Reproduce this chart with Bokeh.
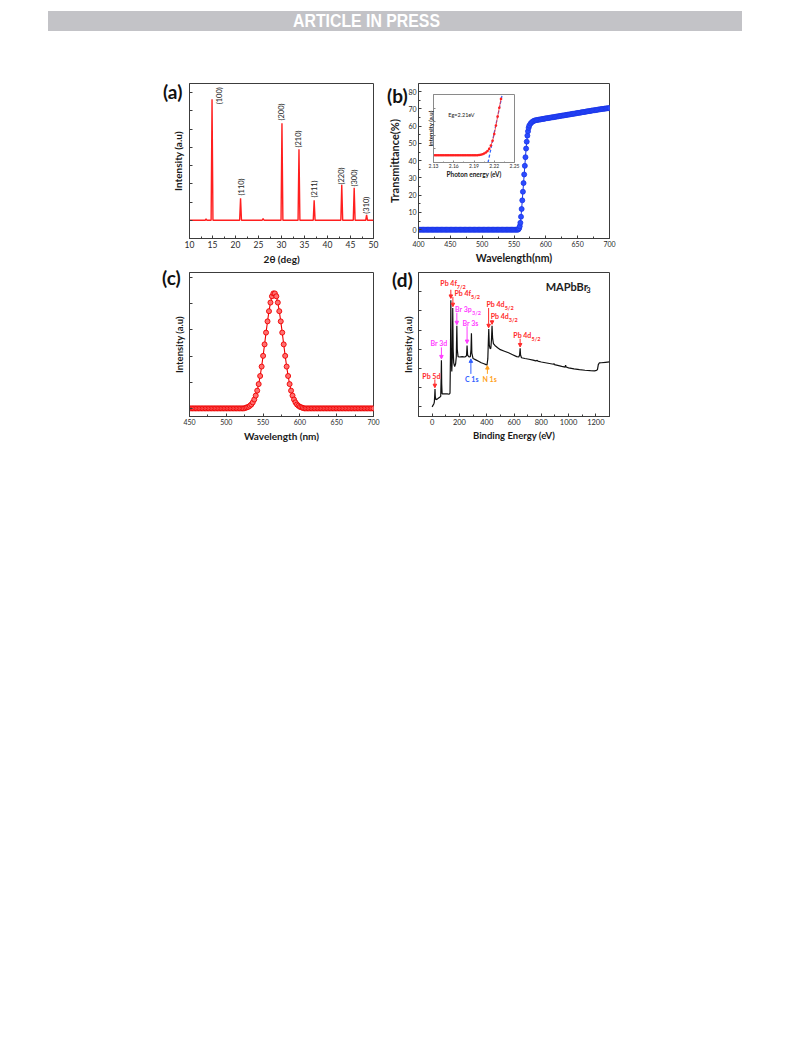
import math
from bokeh.plotting import figure
from bokeh.models import (ColumnDataSource, Label, Arrow, NormalHead, Div, GridBox,
                          Range1d, SingleIntervalTicker, FixedTicker, CustomJSTickFormatter)
from bokeh.core.properties import value
from bokeh.embed import file_html
from bokeh.resources import INLINE

FONT = "Lato"
AX = "#3c3c3c"

# ---------------- (a) XRD ----------------
xrd_baseline = 1.0
xrd_peak_pos = [13.6, 14.9, 21.1, 26.0, 30.1, 33.8, 37.1, 43.1, 45.8, 48.5]
xrd_peak_int = [1.08, 7.64, 2.21, 1.10, 6.32, 4.90, 2.10, 2.94, 2.78, 1.30]
xrd_labels = ["(100)", "(110)", "(200)", "(210)", "(211)", "(220)", "(300)", "(310)"]
xrd_label_x = [16.45, 21.35, 30.1, 33.75, 37.1, 43.05, 45.9, 48.45]
xrd_label_y = [7.36, 2.36, 6.47, 4.99, 2.25, 2.96, 2.85, 1.36]

# ---------------- (b) transmittance ----------------
trans_wl_flat = list(range(400, 557, 2))
trans_T_flat = [0.0] * len(trans_wl_flat)
trans_wl_rise = [557, 558, 559, 560, 561, 562, 563, 564, 565, 566, 567, 568, 569, 570,
                 571, 572, 573, 574, 576, 578, 580, 582]
trans_T_rise = [0.3, 0.8, 2.0, 4.0, 7.5, 12.0, 17.0, 22.0, 27.0, 32.0, 37.0, 42.0, 47.0, 51.0,
                54.5, 57.0, 59.0, 60.3, 61.5, 62.3, 62.8, 63.2]
trans_wl_plateau = list(range(584, 701, 2))
trans_T_plateau = [63.4, 63.5, 63.7, 63.8, 63.9, 64.1, 64.2, 64.3, 64.5, 64.6,
                   64.7, 64.8, 65.0, 65.1, 65.2, 65.3, 65.5, 65.6, 65.7, 65.8,
                   66.0, 66.1, 66.2, 66.3, 66.5, 66.6, 66.7, 66.8, 67.0, 67.1,
                   67.2, 67.3, 67.5, 67.6, 67.7, 67.8, 68.0, 68.1, 68.2, 68.3,
                   68.5, 68.6, 68.7, 68.8, 69.0, 69.1, 69.2, 69.3, 69.4, 69.6,
                   69.7, 69.8, 69.9, 70.0, 70.1, 70.2, 70.3, 70.4, 70.5]

# inset (band-gap plot)
inset_E_flat = [round(2.130 + 0.0025 * i, 4) for i in range(27)]
inset_I_flat = [1.07] * len(inset_E_flat)
inset_E_rise = [2.1975, 2.200, 2.2025, 2.205, 2.2075, 2.210, 2.2125, 2.215, 2.2175,
                2.220, 2.2225, 2.225, 2.2275, 2.230]
inset_I_rise = [1.10, 1.15, 1.22, 1.32, 1.47, 1.68, 2.0, 2.5, 3.2, 4.2, 5.45, 6.75, 8.05, 9.35]
inset_fit_E = [2.2108, 2.2318]
inset_fit_I = [0.0, 10.0]

# ---------------- (c) PL ----------------
pl_wl = list(range(450, 701, 2))
pl_I = ([0.0] * 38 +
        [0.02, 0.04, 0.06, 0.10, 0.15, 0.23, 0.34, 0.49, 0.68, 0.93,
         1.24, 1.60, 2.01, 2.45, 2.90, 3.33, 3.72, 4.05, 4.29, 4.40,
         4.40, 4.29, 4.05, 3.72, 3.33, 2.90, 2.45, 2.01, 1.60, 1.24,
         0.93, 0.68, 0.49, 0.34, 0.23, 0.15, 0.10, 0.06, 0.04, 0.02] +
        [0.0] * 48)

# ---------------- (d) XPS survey ----------------
xps_BE = [0, 6, 12, 16, 19, 21, 23, 27, 40, 55, 63, 66, 68, 70, 73, 90, 110, 125, 131,
          134, 137, 140, 144, 148, 151, 154, 158, 165, 172, 177, 181, 184, 190, 200, 220,
          240, 252, 256, 260, 270, 280, 285, 288, 291, 300, 320, 340, 360, 380, 395, 402,
          408, 412, 415, 419, 425, 430, 435, 439, 443, 449, 460, 480, 500, 530, 560, 590,
          620, 635, 641, 645, 648, 655, 680, 710, 740, 760, 770, 775, 800, 830, 860, 890,
          893, 896, 920, 950, 975, 978, 982, 1000, 1040, 1080, 1120, 1160, 1190, 1205,
          1212, 1218, 1225, 1240, 1270, 1300]
xps_I = [0.0, 0.08, 0.15, 0.25, 0.6, 0.93, 0.55, 0.38, 0.42, 0.5, 0.55, 1.5, 2.43, 1.2,
         0.68, 0.68, 0.68, 0.66, 0.72, 2.5, 5.56, 2.6, 1.84, 2.6, 5.15, 3.0, 2.3, 2.1,
         2.25, 2.6, 4.22, 3.0, 2.62, 2.6, 2.62, 2.6, 2.66, 3.2, 2.7, 2.6, 2.62, 3.0, 3.83,
         2.8, 2.52, 2.45, 2.38, 2.3, 2.25, 2.2, 2.18, 2.5, 3.4, 4.05, 3.2, 3.03, 3.05, 3.5,
         4.22, 3.6, 3.3, 3.2, 3.08, 2.98, 2.9, 2.82, 2.72, 2.62, 2.6, 2.7, 3.05, 2.7, 2.56,
         2.52, 2.48, 2.44, 2.4, 2.42, 2.38, 2.34, 2.3, 2.26, 2.22, 2.26, 2.2, 2.16, 2.11,
         2.07, 2.17, 2.08, 2.03, 1.98, 1.94, 1.91, 1.89, 1.88, 1.9, 1.95, 2.2, 2.29, 2.3,
         2.32, 2.34]

# annotations of (d)
RED, MAG, BLUE, ORG = "#ff2a2a", "#ff3cff", "#2f5fff", "#ffa020"
xps_ann_text = ["Pb 4f", "Pb 4f", "Br 3p", "Br 3s", "Br 3d", "Pb 5d", "C 1s", "N 1s",
                "Pb 4d", "Pb 4d", "Pb 4d"]
xps_ann_sub = ["7/2", "5/2", "3/2", "", "", "", "", "", "5/2", "3/2", "5/2"]
xps_ann_x = [60, 164, 168, 222, -12, -72, 241, 369, 398, 429, 595]
xps_ann_y = [6.44, 5.92, 5.10, 4.39, 3.32, 1.61, 1.43, 1.43, 5.36, 4.74, 3.74]
xps_ann_color = [RED, RED, MAG, MAG, MAG, RED, BLUE, ORG, RED, RED, RED]
xps_ann_suboff = [16.5, 16.5, 17.0, 0, 0, 0, 0, 0, 18.2, 18.2, 18.2]
xps_arrow_x = [137, 152, 181, 256, 68, 20, 284, 405, 414, 439, 645]
xps_arrow_y0 = [6.10, 5.72, 4.90, 4.20, 3.10, 1.43, 1.72, 1.72, 5.15, 4.52, 3.55]
xps_arrow_y1 = [5.65, 5.22, 4.28, 3.30, 2.50, 1.00, 2.50, 2.15, 4.12, 4.30, 3.12]
xps_arrow_color = [RED, RED, MAG, MAG, MAG, RED, BLUE, ORG, RED, RED, RED]


def style(p, tick_size, xlab_size, ylab_size):
    p.outline_line_color = AX
    p.outline_line_width = 1
    p.border_fill_color = None
    p.background_fill_color = "white"
    p.grid.visible = False
    for ax in p.axis:
        ax.axis_line_color = AX
        ax.major_tick_in = 3
        ax.major_tick_out = 0
        ax.minor_tick_in = 2
        ax.minor_tick_out = 0
        ax.major_tick_line_color = AX
        ax.minor_tick_line_color = AX
        ax.major_label_text_font = FONT
        ax.major_label_text_font_size = tick_size
        ax.major_label_text_color = "#2a2a2a"
        ax.axis_label_text_font = FONT
        ax.axis_label_text_font_style = "bold"
        ax.axis_label_text_color = "#1a1a1a"
        ax.major_label_standoff = 2
        ax.axis_label_standoff = 2
    p.xaxis.axis_label_text_font_size = xlab_size
    p.yaxis.axis_label_text_font_size = ylab_size


def blank_labels(axis):
    axis.formatter = CustomJSTickFormatter(code="return ''")


def panel_tag(txt, left, top, w, h):
    return Div(text=('<div style="padding-left:%dpx;padding-top:%dpx;font-family:Lato,'
                     'sans-serif;font-weight:bold;font-size:19px;line-height:19px;'
                     'color:#111111;">%s</div>') % (left, top, txt),
               width=w, height=h)


# ---------------- figure (a) ----------------
pa = figure(width=228, height=200, x_range=Range1d(10, 50), y_range=Range1d(0, 8.5),
            output_backend="svg", toolbar_location=None,
            min_border_left=37, min_border_right=5, min_border_top=11, min_border_bottom=34)
xrd_x = [10.0]
xrd_y = [xrd_baseline]
for pos, h in zip(xrd_peak_pos, xrd_peak_int):
    xrd_x += [pos - 0.2, pos, pos + 0.2]
    xrd_y += [xrd_baseline, h, xrd_baseline]
xrd_x.append(50.0)
xrd_y.append(xrd_baseline)
pa.line(xrd_x, xrd_y, line_color="#ff1f1f", line_width=1.4)
pa.text(x=xrd_label_x, y=xrd_label_y, text=xrd_labels, angle=math.pi / 2,
        text_font=value(FONT), text_font_size=value("7.5px"), text_color="#222222",
        text_align="left", text_baseline="middle")
pa.xaxis.ticker = SingleIntervalTicker(interval=5, num_minor_ticks=2)
pa.yaxis.ticker = SingleIntervalTicker(interval=1, num_minor_ticks=0)
pa.xaxis.axis_label = "2θ (deg)"
pa.yaxis.axis_label = "Intensity (a.u)"
style(pa, "8.5px", "10px", "10px")
blank_labels(pa.yaxis)
pa.yaxis.axis_label_standoff = 6

# ---------------- figure (b) ----------------
pb = figure(width=252, height=200, x_range=Range1d(400, 700), y_range=Range1d(-5.1, 84.7),
            output_backend="svg", toolbar_location=None,
            min_border_left=37, min_border_right=23, min_border_top=11, min_border_bottom=30)
b_wl = trans_wl_flat + trans_wl_rise + trans_wl_plateau
b_T = trans_T_flat + trans_T_rise + trans_T_plateau
pb.line(b_wl, b_T, line_color="#1a35e6", line_width=1)
pb.scatter(b_wl, b_T, marker="circle", size=5, fill_color="#2a4bff",
           line_color="#1a35e6", line_width=0.8)
pb.xaxis.ticker = SingleIntervalTicker(interval=50, num_minor_ticks=2)
pb.yaxis.ticker = SingleIntervalTicker(interval=10, num_minor_ticks=2)
pb.xaxis.axis_label = "Wavelength(nm)"
pb.yaxis.axis_label = "Transmittance(%)"
style(pb, "7px", "10.5px", "11px")
pb.yaxis.axis_label_standoff = 4

# ---------------- inset of (b) ----------------
pi = figure(width=97, height=95, x_range=Range1d(2.13, 2.25), y_range=Range1d(0, 10),
            output_backend="svg", toolbar_location=None,
            min_border_left=10, min_border_right=6, min_border_top=7, min_border_bottom=20)
pi.line(inset_fit_E, inset_fit_I, line_color="#3366ff", line_width=1.3, line_dash="3 2")
ie = inset_E_flat + inset_E_rise
ii = inset_I_flat + inset_I_rise
pi.line(ie, ii, line_color="#ff3030", line_width=0.8)
pi.scatter(ie, ii, marker="circle", size=2.6, fill_color="#ff2020", line_color=None)
pi.add_layout(Label(x=2.152, y=7.0, text="Eg=2.21eV", text_font=FONT, text_font_size="5.5px",
                    text_baseline="middle", text_color="#222222"))
pi.xaxis.ticker = FixedTicker(ticks=[2.13, 2.16, 2.19, 2.22, 2.25],
                              minor_ticks=[2.145, 2.175, 2.205, 2.235])
pi.yaxis.ticker = FixedTicker(ticks=[0, 2, 4, 6, 8, 10])
pi.xaxis.axis_label = "Photon energy (eV)"
pi.yaxis.axis_label = "Intensity (a.u)"
style(pi, "5px", "6.5px", "6px")
blank_labels(pi.yaxis)
pi.outline_line_color = "#8a8a8a"
for ax in pi.axis:
    ax.axis_line_color = "#8a8a8a"
    ax.major_tick_line_color = "#8a8a8a"
    ax.minor_tick_line_color = "#8a8a8a"
    ax.major_tick_in = 2
    ax.minor_tick_in = 1
    ax.major_label_standoff = 1
    ax.axis_label_standoff = 0

# ---------------- figure (c) ----------------
pc = figure(width=228, height=180, x_range=Range1d(450, 700), y_range=Range1d(-0.31, 5.2),
            output_backend="svg", toolbar_location=None,
            min_border_left=36, min_border_right=7, min_border_top=8, min_border_bottom=26)
pc.line(pl_wl, pl_I, line_color="#ee0000", line_width=1.1)
pc.scatter(pl_wl, pl_I, marker="circle", size=5, fill_color="#ff7070",
           line_color="#ee0000", line_width=0.9)
pc.xaxis.ticker = SingleIntervalTicker(interval=50, num_minor_ticks=2)
pc.yaxis.ticker = SingleIntervalTicker(interval=1, num_minor_ticks=0)
pc.xaxis.axis_label = "Wavelength (nm)"
pc.yaxis.axis_label = "Intensity (a.u)"
style(pc, "7px", "10px", "9.5px")
blank_labels(pc.yaxis)
pc.yaxis.axis_label_standoff = 5

# ---------------- figure (d) ----------------
pd = figure(width=252, height=180, x_range=Range1d(-100, 1300), y_range=Range1d(-0.5, 7.0),
            output_backend="svg", toolbar_location=None,
            min_border_left=38, min_border_right=19, min_border_top=8, min_border_bottom=26)
pd.line(xps_BE, xps_I, line_color="#111111", line_width=1.2)
for xa, y0, y1, c in zip(xps_arrow_x, xps_arrow_y0, xps_arrow_y1, xps_arrow_color):
    pd.add_layout(Arrow(end=NormalHead(size=3.5, fill_color=c, line_color=c),
                        x_start=xa, y_start=y0, x_end=xa, y_end=y1,
                        line_color=c, line_width=1))
ann = ColumnDataSource(dict(x=xps_ann_x, y=xps_ann_y, t=xps_ann_text, c=xps_ann_color))
pd.text(x="x", y="y", text="t", text_color="c", source=ann, text_font=value(FONT),
        text_font_style="bold", text_font_size=value("7px"), text_align="left",
        text_baseline="middle")
sub_idx = [i for i, s in enumerate(xps_ann_sub) if s]
sub = ColumnDataSource(dict(x=[xps_ann_x[i] for i in sub_idx],
                            y=[xps_ann_y[i] - 0.2 for i in sub_idx],
                            t=[xps_ann_sub[i] for i in sub_idx],
                            c=[xps_ann_color[i] for i in sub_idx],
                            o=[xps_ann_suboff[i] for i in sub_idx]))
pd.text(x="x", y="y", text="t", text_color="c", x_offset="o", source=sub,
        text_font=value(FONT), text_font_style="bold", text_font_size=value("5.5px"),
        text_align="left", text_baseline="middle")
pd.add_layout(Label(x=832, y=6.28, text="MAPbBr", text_font=FONT, text_font_style="bold",
                    text_font_size="11px", text_baseline="middle", text_color="#222222"))
pd.add_layout(Label(x=832, y=6.08, x_offset=40.5, text="3", text_font=FONT,
                    text_font_style="bold", text_font_size="7.5px", text_baseline="middle",
                    text_color="#222222"))
pd.xaxis.ticker = SingleIntervalTicker(interval=200, num_minor_ticks=2)
pd.yaxis.ticker = SingleIntervalTicker(interval=1, num_minor_ticks=0)
pd.xaxis.axis_label = "Binding Energy (eV)"
pd.yaxis.axis_label = "Intensity (a.u)"
style(pd, "7.5px", "9.5px", "9.5px")
blank_labels(pd.yaxis)
pd.yaxis.axis_label_standoff = 5

# ---------------- banner and panel tags ----------------
banner = Div(text=('<div style="position:relative;width:694px;height:20px;background:#c3c3c7;">'
                   '<span style="position:absolute;left:245px;top:0px;color:#ffffff;'
                   "font-family:'Liberation Sans Narrow','Liberation Sans',Arial,sans-serif;"
                   'font-weight:bold;font-size:18px;line-height:21px;white-space:nowrap;'
                   'display:inline-block;transform:scaleX(0.88);transform-origin:left center;">'
                   'ARTICLE IN PRESS</span></div>'), width=694, height=20)

tag_a = panel_tag("(a)", 6, 5, 40, 30)
tag_b = panel_tag("(b)", 2, 9, 40, 30)
tag_c = panel_tag("(c)", 5, 81, 40, 110)
tag_d = panel_tag("(d)", 7, 83, 40, 110)

# grid tracks (px): columns start at page x 8, 51, 160, 388, 431, 528, 640
#                   rows start at page y 8, 14, 34, 80, 95, 190, 272, 280
grid = GridBox(children=[(banner, 1, 1, 1, 6),
                         (pa, 3, 2, 4, 1),
                         (pb, 3, 3, 4, 3),
                         (pc, 6, 2, 2, 1),
                         (pd, 6, 3, 2, 3),
                         (pi, 4, 4, 1, 1),
                         (tag_a, 3, 2, 1, 1),
                         (tag_b, 3, 3, 1, 1),
                         (tag_c, 5, 2, 2, 1),
                         (tag_d, 5, 3, 2, 1)],
               rows=["6px", "20px", "46px", "15px", "95px", "82px", "8px", "172px"],
               cols=["43px", "109px", "228px", "43px", "97px", "112px", "105px"],
               spacing=0)

open("out.html", "w").write(file_html(grid, INLINE))
